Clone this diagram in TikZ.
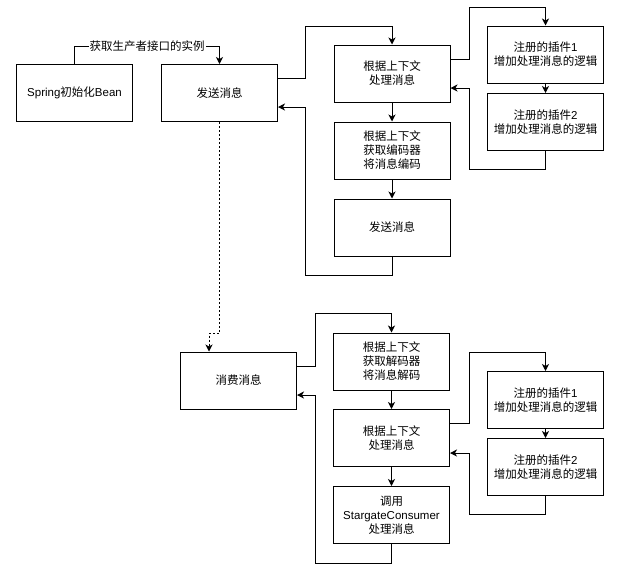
\documentclass[tikz,border=0pt]{standalone}
\usepackage{fontspec}
\setmainfont{Noto Sans CJK SC}
\newfontfamily\lat{Liberation Sans}
\usetikzlibrary{arrows.meta}
\tikzset{
  box/.style={draw, line width=1pt, minimum width=116pt, minimum height=57pt, inner sep=1pt, align=center, font=\fontsize{11.5}{14}\selectfont},
  arr/.style={line width=1pt, -{Stealth[length=7pt,width=7pt,inset=2pt]}},
  lbl/.style={fill=white, inner sep=1pt, font=\fontsize{11.5}{14}\selectfont},
}
\begin{document}
\begin{tikzpicture}[x=1pt,y=-1pt]
\useasboundingbox (0,0) rectangle (644,566);
% top part
\node[box] (spring) at (74.5,93) {{\lat Spring}初始化{\lat Bean}};
\node[box] (send) at (219.5,93) {发送消息};
\node[box] (p1) at (392,73.5) {根据上下文\\处理消息};
\node[box] (enc) at (392,150.5) {根据上下文\\获取编码器\\将消息编码};
\node[box] (send2) at (392,227.5) {发送消息};
\node[box] (pl1) at (545.5,54.5) {注册的插件{\lat 1}\\增加处理消息的逻辑};
\node[box] (pl2) at (545.5,122) {注册的插件{\lat 2}\\增加处理消息的逻辑};
% bottom part
\node[box] (consume) at (238.5,380.5) {消费消息};
\node[box] (dec) at (391.5,361.5) {根据上下文\\获取解码器\\将消息解码};
\node[box] (proc) at (391.5,438) {根据上下文\\处理消息};
\node[box] (sc) at (391.5,515) {调用\\{\lat StargateConsumer}\\处理消息};
\node[box] (pl3) at (545.5,400) {注册的插件{\lat 1}\\增加处理消息的逻辑};
\node[box] (pl4) at (545.5,467) {注册的插件{\lat 2}\\增加处理消息的逻辑};

% connectors top
\draw[arr] (spring.north) -- (spring.north |- 0,46) -- node[lbl]{获取生产者接口的实例} (send.north |- 0,46) -- (send.north);
\draw[arr] ([yshift=15pt]send.east) -| (305,26) -| (p1.north);
\draw[arr] (p1) -- (enc);
\draw[arr] (enc) -- (send2);
\draw[arr] (send2.south) |- (305,275) |- ([yshift=-14pt]send.east);
\draw[arr] ([yshift=14.5pt]p1.east) -| (469,7) -| (pl1.north);
\draw[arr] (pl1) -- (pl2);
\draw[arr] (pl2.south) |- (469,169) |- ([yshift=-14.5pt]p1.east);
% dotted link
\draw[arr, dash pattern=on 2pt off 2pt] (send.south) |- (209,333) -- ([xshift=-29.5pt]consume.north);
% connectors bottom
\draw[arr] ([yshift=14.5pt]consume.east) -| (315,313) -| (dec.north);
\draw[arr] (dec) -- (proc);
\draw[arr] (proc) -- (sc);
\draw[arr] (sc.south) |- (315,563) |- ([yshift=-14.5pt]consume.east);
\draw[arr] ([yshift=15pt]proc.east) -| (469,352) -| (pl3.north);
\draw[arr] (pl3) -- (pl4);
\draw[arr] (pl4.south) |- (469,514) |- ([yshift=-15pt]proc.east);
\end{tikzpicture}
\end{document}
